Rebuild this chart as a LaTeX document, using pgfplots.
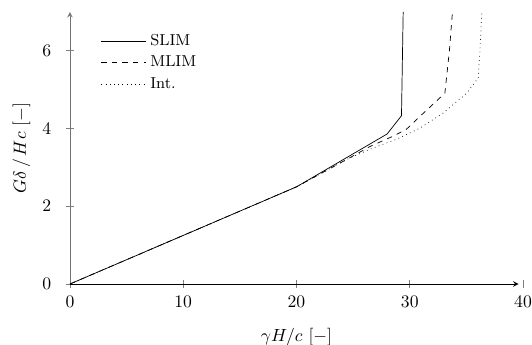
\documentclass[border=0pt]{standalone}
\usepackage{pgfplots}
\pgfplotsset{compat=1.18}
\begin{document}
\begin{tikzpicture}
\begin{axis}[
  scale only axis,
  width=257pt, height=154.3pt,
  xmin=0, xmax=40, ymin=0, ymax=7,
  axis lines=left,
  axis line style={-stealth},
  x axis line style={black, shorten >=2.5pt},
  y axis line style={gray!90!black},
  xtick={0,10,20,30,40}, ytick={0,2,4,6},
  tick align=center,
  tick style={gray, thin},
  xticklabel style={yshift=-1.5pt},
  yticklabel style={xshift=-5pt},
  xlabel={$\gamma H/c$ [$-$]},
  xlabel style={yshift=-4.5pt},
  ylabel={$G\delta\,/\,Hc$ [$-$]},
  legend style={draw=none, fill=none, at={(0.056,0.945)}, anchor=north west, row sep=0.5pt, font=\small},
  legend image post style={xscale=1.5},
  legend cell align=left,
]
\addplot[black, thin] coordinates {(0,0) (20,2.5) (28,3.86) (29.27,4.33) (29.42,7.0)};
\addlegendentry{SLIM}
\addplot[black, thin, dashed] coordinates {(0,0) (20,2.5) (24.4,3.2) (26.5,3.54) (28.5,3.8) (29.7,3.98) (30.74,4.27) (33.1,4.91) (33.5,6.0) (33.77,7.0)};
\addlegendentry{MLIM}
\addplot[black, thin, dotted] coordinates {(0,0) (20,2.5) (24.4,3.2) (26.5,3.47) (28.8,3.72) (30.9,4.01) (32.95,4.4) (35.0,4.9) (36.04,5.3) (36.2,6.0) (36.36,7.0)};
\addlegendentry{Int.}
\end{axis}
\pgfresetboundingbox
\useasboundingbox ([shift={(-39.7pt,-34.6pt)}]current axis.south west) rectangle ([shift={(262.1pt,161.1pt)}]current axis.south west);
\end{tikzpicture}
\end{document}
